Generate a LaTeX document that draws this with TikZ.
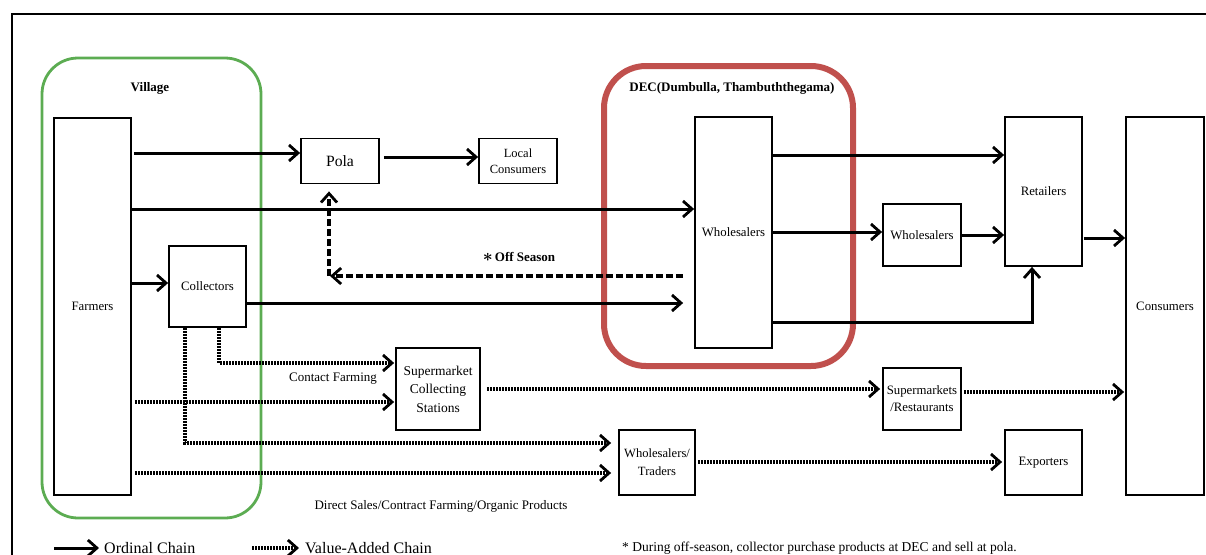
\documentclass[tikz,border=0pt]{standalone}
\usepackage{fontspec}
\setmainfont{Liberation Serif}
\usetikzlibrary{arrows.meta,calc}
\definecolor{villagegreen}{RGB}{92,172,82}
\definecolor{decred}{RGB}{192,80,77}
\tikzset{
  box/.style={draw, line width=1.8pt, inner sep=0pt, align=center, font=\fontsize{12.8}{17.5}\selectfont},
  tip/.style={-{Straight Barb[length=9pt,width=16pt,line width=2.8pt]}},
  ord/.style={line width=3pt, tip},
  val/.style={line width=3.2pt, dash pattern=on 1.9pt off 1.1pt, tip},
  offs/.style={line width=3.2pt, dash pattern=on 7.3pt off 2.7pt, tip},
  lbl/.style={font=\fontsize{13}{15}\selectfont},
  blbl/.style={font=\fontsize{13}{15}\selectfont\bfseries},
  leg/.style={font=\fontsize{16}{18}\selectfont, anchor=base west, inner sep=0pt},
}
\begin{document}
\begin{tikzpicture}[x=1pt,y=-1pt]
\useasboundingbox (0,0) rectangle (1206,554);
% outer frame
\draw[line width=2.5pt] (12,570) -- (12,14) -- (1220,14);
% regions
\draw[villagegreen, line width=2.8pt, rounded corners=36pt] (42,58) rectangle (261,518);
\draw[decred, line width=6pt, rounded corners=42pt] (604,66) rectangle (853,366);
\node[blbl] (village) at (150,88) {Village};
\node[blbl] (dec) at (732,88) {DEC(Dumbulla, Thambuththegama)};
% boxes
\node[box, minimum width=77pt, minimum height=377pt] (farmers) at (92.5,306.5) {Farmers};
\node[box, minimum width=77pt, minimum height=81pt] (collectors) at (207.5,286.5) {Collectors};
\node[box, minimum width=78pt, minimum height=45pt, font=\fontsize{15.7}{18}\selectfont] (pola) at (340,161) {Pola};
\node[box, minimum width=78pt, minimum height=45pt, font=\fontsize{12.5}{16.5}\selectfont] (lc) at (518,161) {Local\\Consumers};
\node[box, minimum width=77pt, minimum height=231pt] (whdec) at (733.5,232.5) {Wholesalers};
\node[box, minimum width=78pt, minimum height=62pt] (wh2) at (922,235) {Wholesalers};
\node[box, minimum width=77pt, minimum height=149pt] (ret) at (1043.5,191.5) {Retailers};
\node[box, minimum width=78pt, minimum height=378pt] (cons) at (1165,306) {Consumers};
\node[box, minimum width=84pt, minimum height=82pt, font=\fontsize{13.5}{18.5}\selectfont] (scs) at (438,389) {Supermarket\\Collecting\\Stations};
\node[box, minimum width=78pt, minimum height=62pt, font=\fontsize{12.8}{17}\selectfont] (sr) at (922,399) {Supermarkets\\/Restaurants};
\node[box, minimum width=76pt, minimum height=65pt, font=\fontsize{12.6}{18}\selectfont] (wt) at (657,462.5) {Wholesalers/\\Traders};
\node[box, minimum width=77pt, minimum height=65pt] (exp) at (1043.5,462.5) {Exporters};
% ordinal chain arrows
\draw[ord, shorten <=2pt] (farmers.east |- 0,153) -- (pola.west |- 0,153);
\draw[ord, shorten <=4pt] (pola.east |- 0,157) -- (lc.west |- 0,157);
\draw[ord] (farmers.east |- 0,209) -- (whdec.west |- 0,209);
\draw[ord] (farmers.east |- 0,283) -- (collectors.west |- 0,283);
\draw[ord, shorten >=11pt] (collectors.east |- 0,303) -- (whdec.west |- 0,303);
\draw[ord] (whdec.east |- 0,155) -- (ret.west |- 0,155);
\draw[ord] (whdec.east |- 0,232) -- (wh2.west |- 0,232);
\draw[ord] (wh2.east |- 0,235) -- (ret.west |- 0,235);
\draw[ord] (whdec.east |- 0,322) -| (ret.south -| 1032,0);
\draw[ord, shorten <=1pt] (ret.east |- 0,238) -- (cons.west |- 0,238);
% off season
\coordinate (osA) at (683,276);
\coordinate (osB) at (329,276);
\draw[offs, shorten >=1pt] (osA) -- (osB);
\draw[offs, shorten >=7pt] (osB) -- (osB |- pola.south);
\node[blbl] (offlbl) at (519,257) {{\fontsize{19}{19}\selectfont\boldmath$\ast$}\,Off Season};
% value-added chain arrows
\draw[val, shorten >=1pt] (collectors.south -| 219,0) |- (scs.west |- 0,363);
\draw[val, shorten >=7pt] (collectors.south -| 185,0) |- (wt.west |- 0,443);
\draw[val, shorten <=3pt, shorten >=1pt] (farmers.east |- 0,402) -- (scs.west |- 0,402);
\draw[val, shorten <=3pt, shorten >=7pt] (farmers.east |- 0,473) -- (wt.west |- 0,473);
\draw[val, shorten <=6pt, shorten >=2pt] (scs.east |- 0,389) -- (sr.west |- 0,389);
\draw[val, shorten <=2pt, shorten >=1pt] (sr.east |- 0,392) -- (cons.west |- 0,392);
\draw[val, shorten <=2pt, shorten >=2pt] (wt.east |- 0,462) -- (exp.west |- 0,462);
% labels
\node[lbl] (cf) at (333,379) {Contact Farming};
\node[lbl] (ds) at (441,506) {Direct Sales/Contract Farming/Organic Products};
% legend
\coordinate (l1a) at (54,548); \coordinate (l1b) at (99,548);
\draw[ord] (l1a) -- (l1b);
\node[leg] (l1t) at (104,553) {Ordinal Chain};
\coordinate (l2a) at (252,548); \coordinate (l2b) at (299,548);
\draw[val] (l2a) -- (l2b);
\node[leg] (l2t) at (305,553) {Value-Added Chain};
\node[font=\fontsize{13.5}{15}\selectfont, anchor=base west, inner sep=0pt] (note) at (622,551) {* During off-season, collector purchase products at DEC and sell at pola.};
\end{tikzpicture}
\end{document}
